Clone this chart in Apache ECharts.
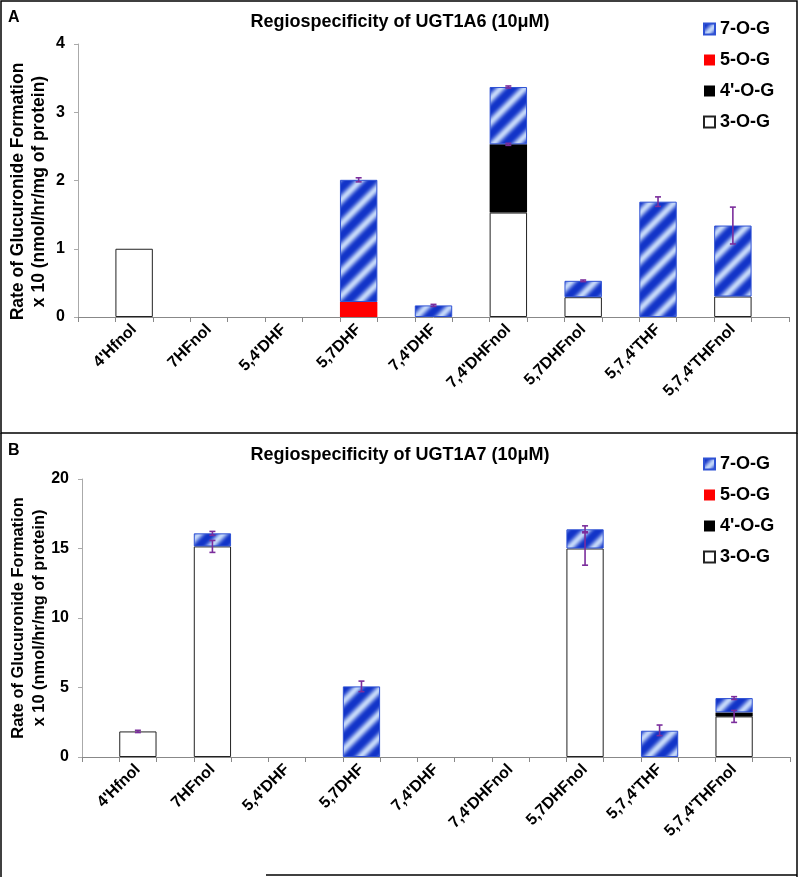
<!DOCTYPE html>
<html>
<head>
<meta charset="utf-8">
<title>Regiospecificity of UGT1A6 / UGT1A7</title>
<script src="https://cdn.jsdelivr.net/npm/echarts@6/dist/echarts.min.js"></script>
<style>
    html, body { margin: 0; padding: 0; background: #fff; }
    #container { width: 800px; height: 877px; }
</style>
</head>
<body>
<div id="container"></div>
<script>
var compounds = ["4'Hfnol", "7HFnol", "5,4'DHF", "5,7DHF", "7,4'DHF", "7,4'DHFnol", "5,7DHFnol", "5,7,4'THF", "5,7,4'THFnol"];
var legendNames = ['7-O-G', '5-O-G', "4'-O-G", '3-O-G'];
var yTicksA = [0, 4, 1];   // min, max, step
var yTicksB = [0, 20, 5];

// panel A - UGT1A6
var a3OG = [1.00, 0, 0, 0,    0,    1.53, 0.29, 0,    0.30];
var a4OG = [0,    0, 0, 0,    0,    1.00, 0,    0,    0];
var a5OG = [0,    0, 0, 0.22, 0,    0,    0,    0,    0];
var a7OG = [0,    0, 0, 1.79, 0.17, 0.84, 0.24, 1.69, 1.04];
// error bars: [compound index, centre, +/-]
var aErr = [[3, 2.01, 0.03], [4, 0.17, 0.015], [5, 2.53, 0.015], [5, 3.37, 0.015], [6, 0.53, 0.012], [7, 1.69, 0.07], [8, 1.34, 0.27]];

// panel B - UGT1A7
var b3OG = [1.84, 15.15, 0, 0,    0, 0, 15.0, 0,    2.92];
var b4OG = [0,    0,     0, 0,    0, 0, 0,    0,    0.29];
var b5OG = [0,    0,     0, 0,    0, 0, 0,    0,    0];
var b7OG = [0,    0.94,  0, 5.08, 0, 0, 1.38, 1.89, 1.03];
var bErr = [[0, 1.84, 0.08], [1, 15.15, 0.43], [1, 16.09, 0.14], [3, 5.08, 0.38], [6, 15.0, 1.2], [6, 16.38, 0.25], [7, 1.92, 0.38], [8, 2.92, 0.43], [8, 4.24, 0.1]];

var FONT = '"Liberation Sans", Arial, sans-serif';

// each compound sits in every other slot of the category axis (like the excel sheet)
var slots = [];
for (var i = 0; i < compounds.length; i++) { slots.push(''); slots.push(compounds[i]); }
slots.push('');

function toSlots(vals) {
    var out = [];
    for (var i = 0; i < vals.length; i++) { out.push('-'); out.push(vals[i] ? vals[i] : '-'); }
    out.push('-');
    return out;
}

// diagonal blue gradient stripes
function stripes() {
    var n = 24;
    var c = document.createElement('canvas');
    c.width = n; c.height = n;
    var ctx = c.getContext('2d');
    var img = ctx.createImageData(n, n);
    for (var y = 0; y < n; y++) {
        for (var x = 0; x < n; x++) {
            var t = ((x + y) % n) / n;
            var k = 0.5 - 0.5 * Math.cos(2 * Math.PI * t);
            k = Math.pow(k, 1.6);
            var p = (y * n + x) * 4;
            img.data[p] = Math.round(18 + (195 - 18) * k);
            img.data[p + 1] = Math.round(52 + (214 - 52) * k);
            img.data[p + 2] = Math.round(200 + (248 - 200) * k);
            img.data[p + 3] = 255;
        }
    }
    ctx.putImageData(img, 0, 0);
    return {image: c, repeat: 'repeat'};
}
var hatch = stripes();

function barSeries(name, vals, idx, color, border) {
    return {
        name: name, type: 'bar', stack: 'p' + idx,
        xAxisIndex: idx, yAxisIndex: idx,
        barWidth: '100%',
        data: toSlots(vals),
        itemStyle: {color: color, borderColor: border, borderWidth: border ? 1 : 0}
    };
}

function errSeries(list, idx) {
    return {
        type: 'custom', xAxisIndex: idx, yAxisIndex: idx, z: 10,
        data: list.map(function (e) { return [2 * e[0] + 1, e[1] - e[2], e[1] + e[2]]; }),
        encode: {x: 0, y: [1, 2]},
        renderItem: function (params, api) {
            var lo = api.coord([api.value(0), api.value(1)]);
            var hi = api.coord([api.value(0), api.value(2)]);
            var w = 3;
            var st = {stroke: '#7b2d9c', lineWidth: 1.6};
            return {
                type: 'group',
                children: [
                    {type: 'line', shape: {x1: lo[0], y1: lo[1], x2: hi[0], y2: hi[1]}, style: st},
                    {type: 'line', shape: {x1: lo[0] - w, y1: lo[1], x2: lo[0] + w, y2: lo[1]}, style: st},
                    {type: 'line', shape: {x1: hi[0] - w, y1: hi[1], x2: hi[0] + w, y2: hi[1]}, style: st}
                ]
            };
        }
    };
}

function xAxis(idx) {
    return {
        type: 'category', gridIndex: idx, data: slots,
        axisLine: {lineStyle: {color: '#888', width: 1}},
        axisTick: {show: true, interval: 0, length: 5, lineStyle: {color: '#888'}},
        axisLabel: {
            interval: 0, rotate: 45, margin: 10, color: '#000',
            fontFamily: FONT, fontWeight: 'bold', fontSize: 16
        }
    };
}

function yAxis(idx, t, gap, size, pad) {
    return {
        type: 'value', gridIndex: idx, min: t[0], max: t[1], interval: t[2],
        name: 'Rate of Glucuronide Formation\nx 10 (nmol/hr/mg of protein)',
        nameLocation: 'middle', nameGap: gap, nameMoveOverlap: false,
        nameTextStyle: {fontFamily: FONT, fontWeight: 'bold', fontSize: size, lineHeight: 21, color: '#000', padding: [0, pad, 0, 0]},
        axisLine: {show: true, lineStyle: {color: '#aaa', width: 1}},
        axisTick: {show: true, length: 4, lineStyle: {color: '#aaa'}},
        splitLine: {show: false},
        axisLabel: {margin: 13, color: '#000', fontFamily: FONT, fontWeight: 'bold', fontSize: 16}
    };
}

function legend(top) {
    return {
        data: legendNames, orient: 'vertical', left: 703, top: top, padding: 0,
        icon: 'rect', itemWidth: 11, itemHeight: 11, itemGap: 11,
        selectedMode: false,
        textStyle: {fontFamily: FONT, fontWeight: 'bold', fontSize: 18, lineHeight: 20, color: '#000'}
    };
}

var myChart = echarts.init(document.getElementById('container'));
var option = {
    backgroundColor: '#fff',
    animation: false,
    title: [
        {text: 'Regiospecificity of UGT1A6 (10μM)', left: 'center', top: 8,
         textStyle: {fontFamily: FONT, fontWeight: 'bold', fontSize: 18, color: '#000'}},
        {text: 'Regiospecificity of UGT1A7 (10μM)', left: 'center', top: 441,
         textStyle: {fontFamily: FONT, fontWeight: 'bold', fontSize: 18, color: '#000'}},
        {text: 'A', left: 3, top: 5, textStyle: {fontFamily: FONT, fontWeight: 'bold', fontSize: 16, color: '#000'}},
        {text: 'B', left: 3, top: 438, textStyle: {fontFamily: FONT, fontWeight: 'bold', fontSize: 16, color: '#000'}}
    ],
    legend: [legend(19), legend(454)],
    grid: [
        {left: 78, right: 11, top: 44, height: 273, outerBoundsMode: 'none'},
        {left: 82, right: 10, top: 479, height: 278, outerBoundsMode: 'none'}
    ],
    xAxis: [xAxis(0), xAxis(1)],
    yAxis: [yAxis(0, yTicksA, 28, 17.5, 22), yAxis(1, yTicksB, 32, 16.4, 0)],
    graphic: [
        {type: 'rect', shape: {x: 1, y: 1, width: 796, height: 432}, style: {fill: null, stroke: '#000', lineWidth: 1.5}, silent: true},
        {type: 'line', shape: {x1: 1, y1: 433, x2: 1, y2: 877}, style: {stroke: '#000', lineWidth: 1.5}, silent: true},
        {type: 'line', shape: {x1: 797, y1: 433, x2: 797, y2: 877}, style: {stroke: '#000', lineWidth: 1.5}, silent: true},
        {type: 'line', shape: {x1: 266, y1: 875, x2: 797, y2: 875}, style: {stroke: '#000', lineWidth: 1.5}, silent: true}
    ],
    series: [
        barSeries('3-O-G', a3OG, 0, '#fff', '#222'),
        barSeries("4'-O-G", a4OG, 0, '#000', null),
        barSeries('5-O-G', a5OG, 0, '#ff0000', null),
        barSeries('7-O-G', a7OG, 0, hatch, '#2f52d4'),
        errSeries(aErr, 0),
        barSeries('3-O-G', b3OG, 1, '#fff', '#222'),
        barSeries("4'-O-G", b4OG, 1, '#000', null),
        barSeries('5-O-G', b5OG, 1, '#ff0000', null),
        barSeries('7-O-G', b7OG, 1, hatch, '#2f52d4'),
        errSeries(bErr, 1)
    ]
};
myChart.setOption(option);
</script>
</body>
</html>
